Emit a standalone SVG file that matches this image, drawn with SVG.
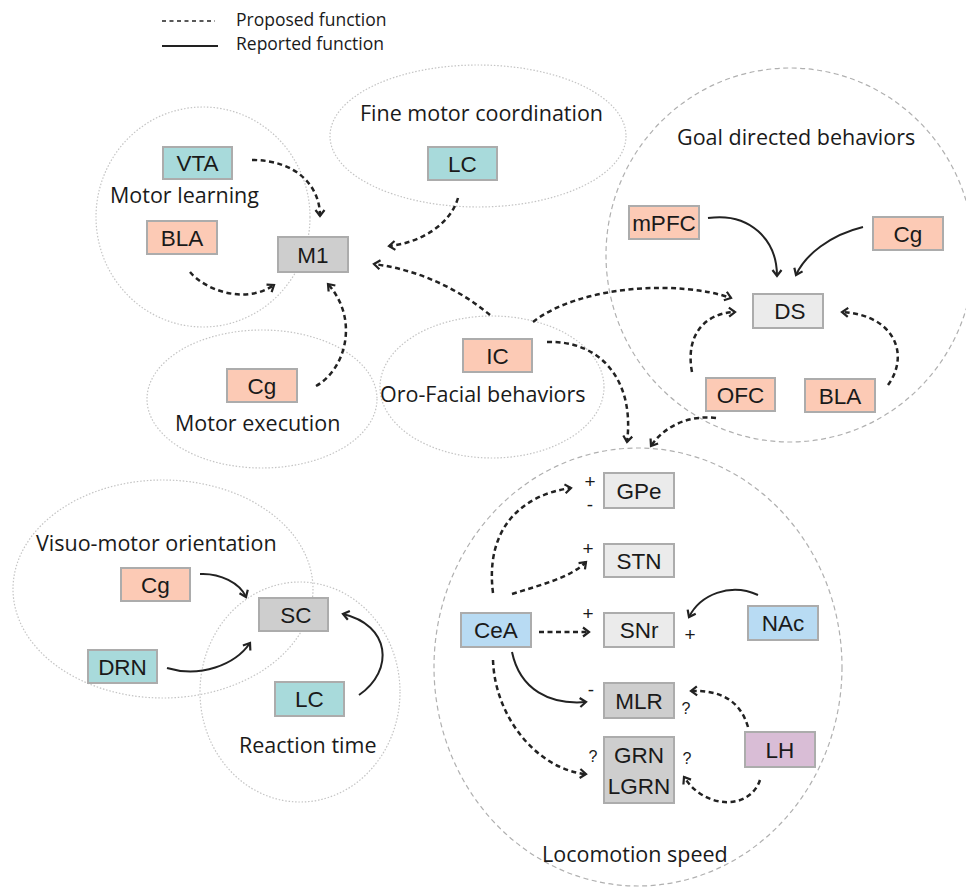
<svg xmlns="http://www.w3.org/2000/svg" width="966" height="892" viewBox="0 0 966 892">
<defs>
<style>
.grp{fill:none;stroke:#c4c4c4;stroke-width:1.2;stroke-dasharray:1.5 1.8}
.grp2{fill:none;stroke:#b0b0b0;stroke-width:1.2;stroke-dasharray:5 3.5}
.box{stroke:#acacac;stroke-width:2}
.teal{fill:#a8dadb}.sal{fill:#fccab5}.gray{fill:#cecece}.lgray{fill:#ebebeb}.blue{fill:#b8dbf3}.purp{fill:#d9bdd6}
.nl{font-family:"Liberation Sans",Arial,sans-serif;font-size:22.5px;fill:#1a1a1a;text-anchor:middle}
.gl{font-family:"Open Sans","DejaVu Sans",sans-serif;font-size:21.5px;fill:#1a1a1a}
.lg{font-family:"Open Sans","DejaVu Sans",sans-serif;font-size:17.5px;fill:#1a1a1a}
.sg{font-family:"Liberation Sans",Arial,sans-serif;font-size:19px;fill:#1a1a1a;text-anchor:middle}
.q{font-family:"Liberation Sans",Arial,sans-serif;font-size:16px;fill:#1a1a1a;text-anchor:middle}
.d{fill:none;stroke:#222;stroke-width:2.5;stroke-dasharray:5 3.5;marker-end:url(#ah)}
.s{fill:none;stroke:#222;stroke-width:2;marker-end:url(#ah)}
</style>
<marker id="ah" markerUnits="userSpaceOnUse" markerWidth="12" markerHeight="12" viewBox="-8 -6 10 12" refX="0" refY="0" orient="auto">
<path d="M-6,-4.5 L0,0 L-6,4.5" fill="none" stroke="#222" stroke-width="2.2" stroke-dasharray="none"/>
</marker>
</defs>
<rect width="966" height="892" fill="#fff"/>

<g id="legend">
<line x1="162" y1="21" x2="215" y2="21" stroke="#222" stroke-width="1.6" stroke-dasharray="4 3.5"/>
<line x1="162" y1="46" x2="218" y2="46" stroke="#222" stroke-width="2"/>
<text class="lg" x="236" y="26">Proposed function</text>
<text class="lg" x="236" y="50">Reported function</text>
</g>

<g id="groups">
<ellipse class="grp" cx="203" cy="217" rx="107" ry="110"/>
<ellipse class="grp" cx="478" cy="136" rx="148" ry="71"/>
<ellipse class="grp2" cx="790" cy="255" rx="184" ry="187"/>
<ellipse class="grp" cx="262" cy="399" rx="115" ry="69"/>
<ellipse class="grp" cx="492" cy="387" rx="112" ry="71"/>
<ellipse class="grp" cx="163" cy="589" rx="150" ry="109"/>
<ellipse class="grp" cx="300" cy="692" rx="100" ry="110"/>
<ellipse class="grp2" cx="638" cy="667" rx="204" ry="219"/>
<text class="gl" x="110" y="203">Motor learning</text>
<text class="gl" x="360" y="121">Fine motor coordination</text>
<text class="gl" x="677" y="145">Goal directed behaviors</text>
<text class="gl" x="175" y="431">Motor execution</text>
<text class="gl" x="380" y="402">Oro-Facial behaviors</text>
<text class="gl" x="36" y="551">Visuo-motor orientation</text>
<text class="gl" x="239" y="753">Reaction time</text>
<text class="gl" x="542" y="862">Locomotion speed</text>
</g>

<g id="connectors">
<path class="d" d="M252,160 C295,160 320,185 320,216"/>
<path class="d" d="M190,272 C205,290 245,305 274,285"/>
<path class="d" d="M458,198 C450,225 420,243 389,246"/>
<path class="d" d="M490,315 C460,290 420,270 374,264"/>
<path class="d" d="M316,386 C345,370 360,320 328,284"/>
<path class="d" d="M533,322 C580,285 680,280 731,298"/>
<path class="d" d="M547,342 C600,340 635,380 627,442"/>
<path class="d" d="M716,418 C690,415 665,425 651,446"/>
<path class="d" d="M692,372 C685,335 705,313 735,312"/>
<path class="d" d="M888,385 C910,355 895,315 842,312"/>
<path class="s" d="M708,218 C750,212 777,240 777,276"/>
<path class="s" d="M863,227 C830,235 805,255 796,275"/>
<path class="s" d="M200,574 C220,573 240,583 246,597"/>
<path class="s" d="M167,668 C200,678 235,665 250,643"/>
<path class="s" d="M359,695 C395,670 390,625 343,614"/>
<path class="d" d="M493,593 C485,530 520,495 571,488"/>
<path class="d" d="M512,594 C540,585 570,578 586,562"/>
<path class="d" d="M539,632 L589,632"/>
<path class="s" d="M758,595 C730,582 700,595 689,617"/>
<path class="s" d="M512,652 C520,690 550,705 586,702"/>
<path class="d" d="M493,660 C495,720 540,770 586,774"/>
<path class="d" d="M748,727 C740,700 720,690 691,691"/>
<path class="d" d="M760,780 C750,810 705,810 684,777"/>
</g>

<g id="n-vta"><rect class="box teal" x="163" y="147" width="69" height="32"/><text class="nl" x="197.5" y="171">VTA</text></g>
<g id="n-bla1"><rect class="box sal" x="147" y="221" width="70" height="33"/><text class="nl" x="182" y="245.5">BLA</text></g>
<g id="n-m1"><rect class="box gray" x="278" y="237" width="70" height="35"/><text class="nl" x="313" y="262.5">M1</text></g>
<g id="n-lc1"><rect class="box teal" x="428" y="147" width="69" height="33"/><text class="nl" x="462.5" y="171.5">LC</text></g>
<g id="n-mpfc"><rect class="box sal" x="629" y="206" width="70" height="33"/><text class="nl" x="664" y="230.5">mPFC</text></g>
<g id="n-cg-goal"><rect class="box sal" x="873" y="217" width="70" height="33"/><text class="nl" x="908" y="241.5">Cg</text></g>
<g id="n-ds"><rect class="box lgray" x="753" y="294" width="70" height="34"/><text class="nl" x="790" y="319">DS</text></g>
<g id="n-ofc"><rect class="box sal" x="706" y="378" width="69" height="33"/><text class="nl" x="740.5" y="402.5">OFC</text></g>
<g id="n-bla2"><rect class="box sal" x="805" y="379" width="70" height="33"/><text class="nl" x="840" y="403.5">BLA</text></g>
<g id="n-ic"><rect class="box sal" x="463" y="339" width="69" height="33"/><text class="nl" x="497.5" y="363.5">IC</text></g>
<g id="n-cg-exec"><rect class="box sal" x="227" y="369" width="70" height="33"/><text class="nl" x="262" y="393.5">Cg</text></g>
<g id="n-cg-vis"><rect class="box sal" x="121" y="568" width="69" height="33"/><text class="nl" x="155.5" y="592.5">Cg</text></g>
<g id="n-sc"><rect class="box gray" x="259" y="598" width="69" height="33"/><text class="nl" x="296" y="622.5">SC</text></g>
<g id="n-drn"><rect class="box teal" x="88" y="650" width="69" height="33"/><text class="nl" x="122.5" y="674.5">DRN</text></g>
<g id="n-lc2"><rect class="box teal" x="275" y="682" width="69" height="34"/><text class="nl" x="309.5" y="707">LC</text></g>
<g id="n-gpe"><rect class="box lgray" x="604" y="473" width="70" height="35"/><text class="nl" x="639" y="498.5">GPe</text></g>
<g id="n-stn"><rect class="box lgray" x="604" y="544" width="70" height="33"/><text class="nl" x="639" y="568.5">STN</text></g>
<g id="n-snr"><rect class="box lgray" x="604" y="613" width="70" height="34"/><text class="nl" x="639" y="638">SNr</text></g>
<g id="n-cea"><rect class="box blue" x="461" y="613" width="70" height="34"/><text class="nl" x="496" y="638">CeA</text></g>
<g id="n-nac"><rect class="box blue" x="748" y="606" width="70" height="34"/><text class="nl" x="783" y="631">NAc</text></g>
<g id="n-mlr"><rect class="box gray" x="604" y="683" width="70" height="35"/><text class="nl" x="639" y="708.5">MLR</text></g>
<g id="n-grn"><rect class="box gray" x="604" y="737" width="70" height="66"/><text class="nl" x="639" y="762.5">GRN</text><text class="nl" x="639" y="794">LGRN</text></g>
<g id="n-lh"><rect class="box purp" x="745" y="732" width="70" height="35"/><text class="nl" x="780" y="757.5">LH</text></g>

<g id="signs">
<text class="sg" x="590" y="488">+</text>
<text class="sg" x="590" y="511">-</text>
<text class="sg" x="588" y="555">+</text>
<text class="sg" x="588" y="620">+</text>
<text class="sg" x="690" y="641">+</text>
<text class="sg" x="591" y="696">-</text>
<text class="q" x="686" y="714">?</text>
<text class="q" x="593" y="762">?</text>
<text class="q" x="687" y="764">?</text>
</g>
</svg>
